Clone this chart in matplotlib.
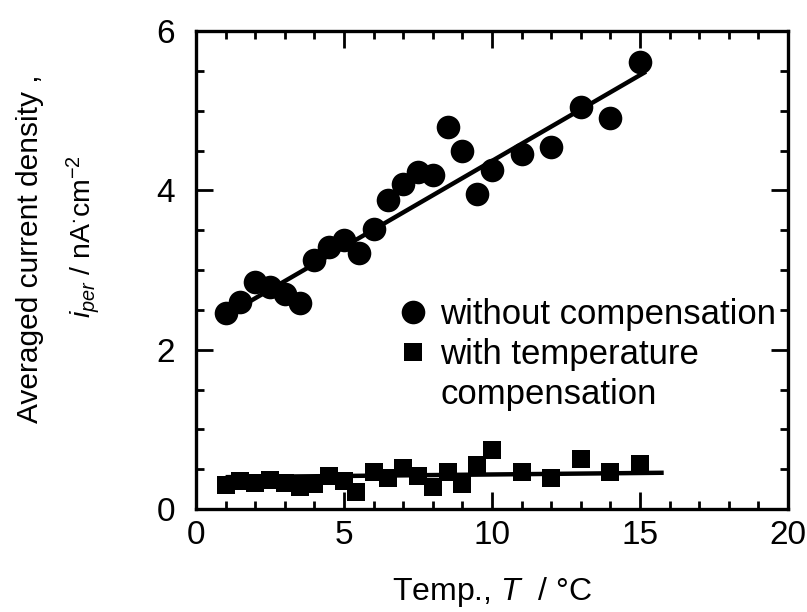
import matplotlib
matplotlib.use('Agg')
import matplotlib.pyplot as plt
from matplotlib.lines import Line2D
from matplotlib.ticker import MultipleLocator

plt.rcParams['font.family'] = ['Liberation Sans', 'DejaVu Sans']
plt.rcParams['mathtext.fontset'] = 'custom'
plt.rcParams['mathtext.rm'] = 'Liberation Sans'
plt.rcParams['mathtext.it'] = 'Liberation Sans:italic'

# current density without compensation (circles)
temp_raw = [1.0, 1.5, 2.0, 2.5, 3.0, 3.5, 4.0, 4.5, 5.0, 5.5, 6.0, 6.5,
            7.0, 7.5, 8.0, 8.5, 9.0, 9.5, 10.0, 11.0, 12.0, 13.0, 14.0, 15.0]
i_raw = [2.46, 2.60, 2.85, 2.79, 2.70, 2.58, 3.13, 3.29, 3.38, 3.21, 3.51, 3.88,
         4.08, 4.23, 4.19, 4.80, 4.50, 3.95, 4.25, 4.46, 4.55, 5.05, 4.91, 5.61]

# current density with temperature compensation (squares)
temp_comp = [1.0, 1.5, 2.0, 2.5, 3.0, 3.5, 4.0, 4.5, 5.0, 5.4, 6.0, 6.5,
             7.0, 7.5, 8.0, 8.5, 9.0, 9.5, 10.0, 11.0, 12.0, 13.0, 14.0, 15.0]
i_comp = [0.30, 0.35, 0.33, 0.36, 0.33, 0.27, 0.31, 0.42, 0.35, 0.21, 0.47, 0.385,
          0.52, 0.41, 0.28, 0.47, 0.32, 0.55, 0.74, 0.47, 0.385, 0.63, 0.47, 0.56]

# linear fits
fit_raw_x = [1.0, 15.2]
fit_raw_y = [2.43, 5.49]
fit_comp_x = [1.0, 15.8]
fit_comp_y = [0.40, 0.455]

fig = plt.figure(figsize=(8.07, 6.12), dpi=100)
ax = fig.add_axes([0.2429, 0.1683, 0.7336, 0.7810])

ax.plot(fit_raw_x, fit_raw_y, color='black', lw=3.2, solid_capstyle='butt')
ax.plot(fit_comp_x, fit_comp_y, color='black', lw=3.2, solid_capstyle='butt')
ax.plot(temp_raw, i_raw, 'o', color='black', ms=17, mew=0)
ax.plot(temp_comp, i_comp, 's', color='black', ms=13.5, mew=0)

ax.set_xlim(0, 20)
ax.set_ylim(0, 6)
ax.xaxis.set_major_locator(MultipleLocator(5))
ax.xaxis.set_minor_locator(MultipleLocator(1))
ax.yaxis.set_major_locator(MultipleLocator(2))
ax.yaxis.set_minor_locator(MultipleLocator(0.5))
ax.tick_params(which='both', direction='in', top=True, right=True, width=2, labelsize=24)
ax.tick_params(which='major', length=12)
ax.tick_params(which='minor', length=6)
ax.tick_params(axis='x', which='major', pad=8)
ax.tick_params(axis='y', which='major', pad=15)
for sp in ax.spines.values():
    sp.set_linewidth(2.4)

ax.set_xlabel('Temp., $T$  / °C', fontsize=23, labelpad=17)
fig.text(0.037, 0.593, 'Averaged current density ,', rotation=90,
         fontsize=21.5, ha='center', va='center')
fig.text(0.103, 0.613, '$i_{per}$ / nA$^{\\bullet}$cm$^{-2}$', rotation=90,
         fontsize=20.5, ha='center', va='center')

handles = [Line2D([], [], marker='o', color='black', ls='none', ms=17, mew=0),
           Line2D([], [], marker='s', color='black', ls='none', ms=13.5, mew=0),
           Line2D([], [], ls='none')]
labels = ['without compensation', 'with temperature', 'compensation']
ax.legend(handles, labels, loc='upper left', bbox_to_anchor=(0.313, 0.478),
          frameon=False, fontsize=25, handlelength=0.8, handletextpad=0.4,
          labelspacing=0.2, borderpad=0)

fig.savefig('out.png', dpi=100)
